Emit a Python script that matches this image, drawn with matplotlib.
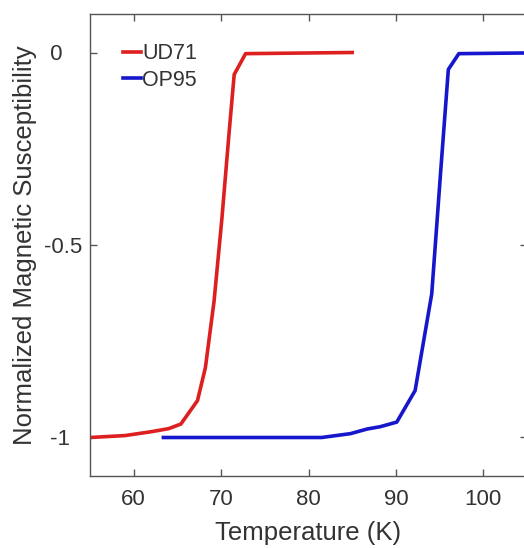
import matplotlib
matplotlib.use("Agg")
import matplotlib.pyplot as plt

plt.rcParams['font.family'] = ['Liberation Sans', 'DejaVu Sans']

# UD71 series
ud71_T = [55.0, 59.0, 62.0, 64.0, 65.4, 67.3, 68.2, 69.2, 70.1, 70.9, 71.5, 72.8, 85.0]
ud71_chi = [-1.0, -0.995, -0.985, -0.977, -0.965, -0.904, -0.819, -0.645, -0.429, -0.212, -0.057, -0.003, 0.0]

# OP95 series
op95_T = [63.4, 81.5, 84.8, 86.7, 88.2, 90.1, 92.2, 94.1, 95.1, 96.0, 97.2, 110.0]
op95_chi = [-1.0, -1.0, -0.99, -0.978, -0.972, -0.96, -0.878, -0.627, -0.316, -0.044, -0.003, 0.0]

series_labels = ["UD71", "OP95"]
x_ticks = [60, 70, 80, 90, 100]
y_ticks = [-1, -0.5, 0]
y_ticklabels = [" -1", "-0.5", " 0"]

fig = plt.figure(figsize=(5.24, 5.48), dpi=100)
ax = fig.add_axes([90/524, 1-476/548, 437/524, 462/548])

axcol = '#333333'
ax.plot(ud71_T, ud71_chi, color='#dd1f1f', lw=2.6, label=series_labels[0], solid_joinstyle='round')
ax.plot(op95_T, op95_chi, color='#1616cc', lw=2.6, label=series_labels[1], solid_joinstyle='round')

ax.set_xlim(55, 105)
ax.set_ylim(-1.1, 0.1)
ax.set_xticks(x_ticks)
ax.set_yticks(y_ticks)
ax.set_yticklabels(y_ticklabels, ha='left')

for s in ax.spines.values():
    s.set_color('#555555')
    s.set_linewidth(1.0)
ax.tick_params(direction='in', length=5, width=1, color='#555555',
               top=True, right=True, labelsize=16, labelcolor=axcol)
ax.tick_params(axis='x', pad=9.7)
ax.tick_params(axis='y', pad=33)

ax.set_xlabel("Temperature (K)", fontsize=18.5, color=axcol, labelpad=7.8)
ax.set_ylabel("Normalized Magnetic Susceptibility", fontsize=18.5, color=axcol, labelpad=5)

leg = ax.legend(loc='upper left', bbox_to_anchor=(0.055, 0.955), frameon=False,
                fontsize=15.5, handlelength=0.85, handletextpad=0.05,
                labelspacing=0.25, borderaxespad=0)
for t in leg.get_texts():
    t.set_color(axcol)

fig.savefig("out.png", dpi=100)
